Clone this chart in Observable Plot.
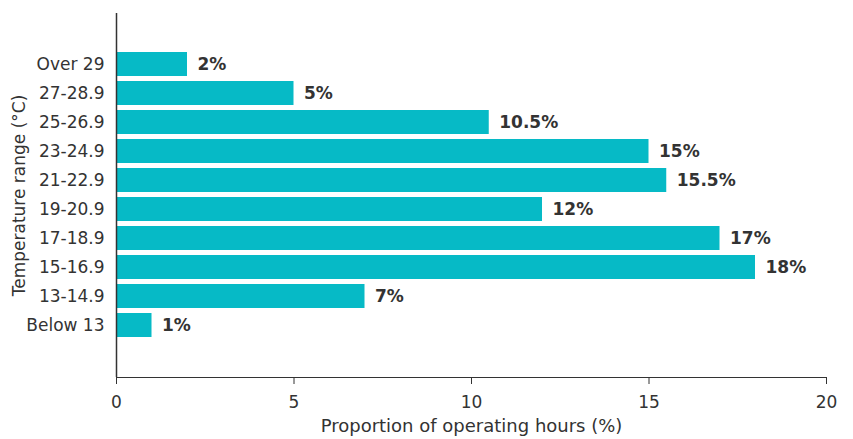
<!DOCTYPE html>
<html>
<head>
<meta charset="utf-8">
<script src="https://cdn.jsdelivr.net/npm/d3@7"></script>
<script src="https://cdn.jsdelivr.net/npm/@observablehq/plot@0.6"></script>
<style>
  html, body { margin: 0; padding: 0; background: #fff; }
  #chart svg g[aria-label="x-axis label"] text { font-size: 18px; }
</style>
</head>
<body>
<div id="chart"></div>
<script>
const categories = ["Over 29", "27-28.9", "25-26.9", "23-24.9", "21-22.9", "19-20.9", "17-18.9", "15-16.9", "13-14.9", "Below 13"];
const values = [2, 5, 10.5, 15, 15.5, 12, 17, 18, 7, 1];
const valueLabels = ["2%", "5%", "10.5%", "15%", "15.5%", "12%", "17%", "18%", "7%", "1%"];
const xTicks = [0, 5, 10, 15, 20];

const data = categories.map((c, i) => ({cat: c, value: values[i], label: valueLabels[i]}));

const chart = Plot.plot({
  width: 853,
  height: 439,
  marginLeft: 116,
  marginRight: 27,
  marginTop: 13,
  marginBottom: 62,
  style: {fontSize: "17px", color: "#333", fontFamily: "'DejaVu Sans', sans-serif"},
  x: {domain: [0, 20], ticks: xTicks, tickSize: 7, tickPadding: 11, line: true, label: "Proportion of operating hours (%)", labelArrow: "none", labelAnchor: "center", labelOffset: 54},
  y: {domain: categories, padding: 0.17, insetTop: 34, insetBottom: 35, tickSize: 0, tickPadding: 12, label: "Temperature range (°C)", labelAnchor: "center", labelOffset: 104},
  marks: [
    Plot.barX(data, {x: "value", y: "cat", fill: "#06BAC6"}),
    Plot.text(data, {x: "value", y: "cat", text: "label", textAnchor: "start", dx: 10, fontWeight: "bold", fontSize: 17, fill: "#333"}),
    Plot.ruleX([0], {stroke: "#333", strokeWidth: 1.5})
  ]
});
document.getElementById("chart").appendChild(chart);
</script>
</body>
</html>
